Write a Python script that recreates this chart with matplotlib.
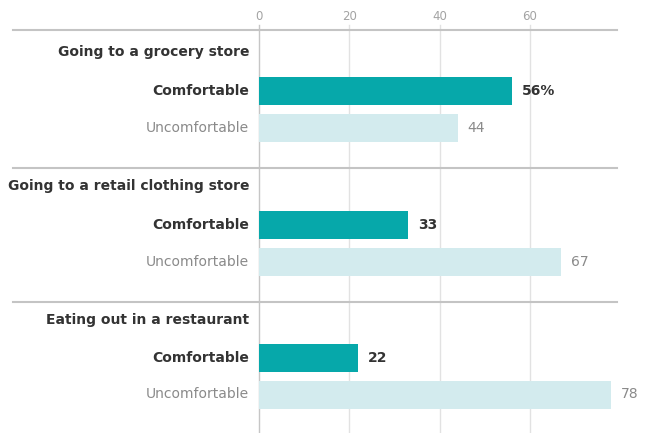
import matplotlib
matplotlib.use("Agg")
import matplotlib.pyplot as plt

activities = ["Going to a grocery store",
              "Going to a retail clothing store",
              "Eating out in a restaurant"]
responses = ["Comfortable", "Uncomfortable"]
comfortable = [56, 33, 22]
uncomfortable = [44, 67, 78]
ticks = [0, 20, 40, 60]

TEAL = "#06a8aa"
PALE = "#d3ebee"
DARK = "#333333"
GREY = "#8a8a8a"

W, H = 646, 433
fig = plt.figure(figsize=(W / 100, H / 100), dpi=100)
# axes: x spans pixel 259 -> 611 for 0 -> 78, y measured in pixel rows
x0_px, x1_px = 259, 611
ax = fig.add_axes([x0_px / W, 0, (x1_px - x0_px) / W, 1])
xmax = 78
ax.set_xlim(0, xmax)
ax.set_ylim(H, 0)
ax.axis("off")

px = xmax / (x1_px - x0_px)  # data units per pixel

fam = ["DejaVu Sans"]

# vertical gridlines with their labels above
for t in ticks:
    ax.plot([t, t], [25, H], color="#c6c6c6" if t == 0 else "#e2e2e2",
            lw=1.0, zorder=0, clip_on=False)
    ax.text(t, 17, str(t), ha="center", va="center", fontsize=8.5,
            color="#a3a3a3", family=fam)

# layout rows (pixel rows): separator, group title, first bar centre
sep_rows = [30, 168, 302]
title_rows = [52, 186, 320]
bar_rows = [91, 225, 358]
row_gap = 36.5
bar_h = 28

for g, (act, c, u) in enumerate(zip(activities, comfortable, uncomfortable)):
    ax.plot([(13 - x0_px) * px, (617 - x0_px) * px], [sep_rows[g]] * 2,
            color="#c4c4c4", lw=1.5, clip_on=False, zorder=1)
    ax.text(-10 * px, title_rows[g], act, ha="right", va="center",
            fontsize=10, fontweight="bold", color=DARK, family=fam)
    yc = bar_rows[g]
    yu = yc + row_gap
    ax.barh(yc, c, height=bar_h, color=TEAL, zorder=2)
    ax.barh(yu, u, height=bar_h, color=PALE, zorder=2)
    ax.text(-10 * px, yc, responses[0], ha="right", va="center", fontsize=10,
            fontweight="bold", color=DARK, family=fam)
    ax.text(-10 * px, yu, responses[1], ha="right", va="center", fontsize=10,
            color=GREY, family=fam)
    clab = f"{c}%" if g == 0 else f"{c}"
    ax.text(c + 10 * px, yc, clab, ha="left", va="center", fontsize=10,
            fontweight="bold", color=DARK, family=fam, clip_on=False)
    ax.text(u + 10 * px, yu, f"{u}", ha="left", va="center", fontsize=10,
            color=GREY, family=fam, clip_on=False)

fig.savefig("out.png", dpi=100, facecolor="white")
